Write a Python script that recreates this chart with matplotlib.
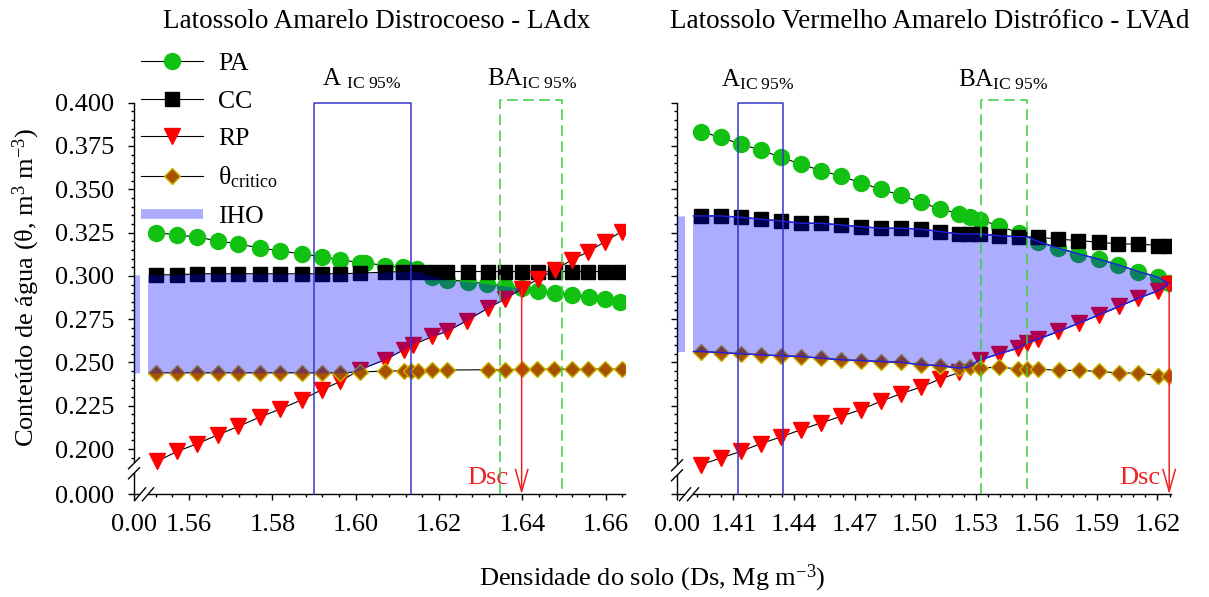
import numpy as np
import matplotlib
matplotlib.use("Agg")
import matplotlib.pyplot as plt
from matplotlib.lines import Line2D

plt.rcParams['font.family'] = ['Liberation Serif', 'DejaVu Serif']
plt.rcParams['mathtext.fontset'] = 'custom'
plt.rcParams['mathtext.rm'] = 'Liberation Serif'
plt.rcParams['mathtext.it'] = 'Liberation Serif:italic'
plt.rcParams['mathtext.bf'] = 'Liberation Serif:bold'

# ---------------- data: LAdx (left) ----------------
lad_pa_x = [1.5520, 1.5571, 1.5620, 1.5670, 1.5718, 1.5770, 1.5819, 1.5870, 1.5918, 1.5963, 1.6011, 1.6022,
            1.6070, 1.6114, 1.6146, 1.6182, 1.6219, 1.6270, 1.6314, 1.6358, 1.6398, 1.6438, 1.6478, 1.6518,
            1.6560, 1.6598, 1.6635]
lad_pa = [0.3250, 0.3237, 0.3223, 0.3202, 0.3184, 0.3161, 0.3144, 0.3126, 0.3111, 0.3092, 0.3077, 0.3077,
          0.3058, 0.3050, 0.3039, 0.2996, 0.2977, 0.2967, 0.2954, 0.2942, 0.2929, 0.2915, 0.2900, 0.2890,
          0.2877, 0.2866, 0.2850]
lad_cc_x = [1.5520, 1.5571, 1.5620, 1.5670, 1.5718, 1.5770, 1.5819, 1.5870, 1.5918, 1.5963, 1.6011, 1.6070,
            1.6114, 1.6146, 1.6182, 1.6218, 1.6270, 1.6318, 1.6358, 1.6398, 1.6438, 1.6478, 1.6518, 1.6558,
            1.6598, 1.6635]
lad_cc = [0.3006, 0.3006, 0.3012, 0.3012, 0.3012, 0.3012, 0.3012, 0.3012, 0.3012, 0.3012, 0.3016, 0.3021,
          0.3025, 0.3025, 0.3025, 0.3025, 0.3025, 0.3025, 0.3025, 0.3025, 0.3025, 0.3025, 0.3025, 0.3025,
          0.3025, 0.3025]
lad_rp_x = [1.5522, 1.5571, 1.5620, 1.5670, 1.5718, 1.5770, 1.5819, 1.5870, 1.5918, 1.5963, 1.6009, 1.6070,
            1.6115, 1.6138, 1.6184, 1.6219, 1.6267, 1.6318, 1.6358, 1.6398, 1.6438, 1.6478, 1.6518, 1.6558,
            1.6598, 1.6638]
lad_rp = [0.1928, 0.1986, 0.2031, 0.2083, 0.2130, 0.2185, 0.2231, 0.2284, 0.2342, 0.2390, 0.2458, 0.2515,
          0.2573, 0.2602, 0.2650, 0.2679, 0.2742, 0.2815, 0.2866, 0.2925, 0.2983, 0.3035, 0.3092, 0.3140,
          0.3198, 0.3256]
lad_th_x = [1.5520, 1.5571, 1.5620, 1.5670, 1.5718, 1.5770, 1.5819, 1.5870, 1.5918, 1.5963, 1.6011, 1.6070,
            1.6115, 1.6133, 1.6149, 1.6184, 1.6219, 1.6318, 1.6358, 1.6398, 1.6434, 1.6476, 1.6518, 1.6558,
            1.6598, 1.6638]
lad_th = [0.2440, 0.2440, 0.2440, 0.2440, 0.2440, 0.2440, 0.2440, 0.2440, 0.2440, 0.2440, 0.2445, 0.2450,
          0.2452, 0.2452, 0.2453, 0.2455, 0.2456, 0.2458, 0.2459, 0.2460, 0.2460, 0.2461, 0.2461, 0.2462,
          0.2462, 0.2462]
lad_iho_x = [1.5520, 1.5571, 1.5620, 1.5670, 1.5718, 1.5770, 1.5819, 1.5870, 1.5918, 1.5963, 1.5995, 1.6011,
             1.6070, 1.6115, 1.6150, 1.6184, 1.6219, 1.6267, 1.6317, 1.6358, 1.6398]
lad_iho_top = [0.3006, 0.3006, 0.3012, 0.3012, 0.3012, 0.3012, 0.3012, 0.3012, 0.3012, 0.3012, 0.3014, 0.3016,
               0.3021, 0.3025, 0.3025, 0.2998, 0.2977, 0.2967, 0.2954, 0.2942, 0.2927]
lad_iho_bot = [0.2440, 0.2440, 0.2440, 0.2440, 0.2440, 0.2440, 0.2440, 0.2440, 0.2440, 0.2440, 0.2443, 0.2458,
               0.2515, 0.2573, 0.2625, 0.2650, 0.2679, 0.2742, 0.2815, 0.2866, 0.2927]
lad_a_ci = [1.5900, 1.6132]
lad_ba_ci = [1.6346, 1.6496]
lad_dsc = 1.6398

# ---------------- data: LVAd (right) ----------------
lva_x = [1.3938, 1.4037, 1.4136, 1.4235, 1.4334, 1.4433, 1.4532, 1.4631, 1.4730, 1.4829, 1.4928, 1.5027]
lva_pa_x = lva_x + [1.5123, 1.5218, 1.5271, 1.5321, 1.5417, 1.5516, 1.5610, 1.5709, 1.5808, 1.5912, 1.6006,
                    1.6105, 1.6204, 1.6258]
lva_pa = [0.3833, 0.3800, 0.3760, 0.3727, 0.3685, 0.3646, 0.3608, 0.3577, 0.3538, 0.3500, 0.3466, 0.3424,
          0.3387, 0.3358, 0.3339, 0.3323, 0.3289, 0.3246, 0.3198, 0.3160, 0.3127, 0.3096, 0.3063, 0.3025,
          0.2992, 0.2958]
lva_cc_x = lva_pa_x
lva_cc = [0.3346, 0.3346, 0.3339, 0.3327, 0.3317, 0.3304, 0.3304, 0.3294, 0.3284, 0.3275, 0.3275, 0.3270,
          0.3256, 0.3242, 0.3242, 0.3242, 0.3231, 0.3227, 0.3223, 0.3212, 0.3204, 0.3194, 0.3184, 0.3184,
          0.3175, 0.3175]
lva_rp_x = lva_x + [1.5123, 1.5218, 1.5321, 1.5417, 1.5511, 1.5553, 1.5610, 1.5709, 1.5813, 1.5912, 1.6011,
                    1.6105, 1.6204, 1.6258]
lva_rp = [0.1909, 0.1948, 0.1986, 0.2031, 0.2069, 0.2111, 0.2150, 0.2188, 0.2227, 0.2275, 0.2319, 0.2357,
          0.2404, 0.2442, 0.2515, 0.2550, 0.2583, 0.2612, 0.2635, 0.2679, 0.2727, 0.2775, 0.2823, 0.2871,
          0.2915, 0.2952]
lva_th_x = lva_x + [1.5123, 1.5218, 1.5271, 1.5321, 1.5417, 1.5511, 1.5553, 1.5610, 1.5714, 1.5813, 1.5912,
                    1.6011, 1.6105, 1.6204, 1.6258]
lva_th = [0.2563, 0.2557, 0.2550, 0.2544, 0.2538, 0.2534, 0.2525, 0.2515, 0.2511, 0.2505, 0.2500, 0.2487,
          0.2481, 0.2467, 0.2473, 0.2467, 0.2473, 0.2462, 0.2462, 0.2462, 0.2454, 0.2454, 0.2448, 0.2439,
          0.2439, 0.2423, 0.2423]
lva_iho_x = lva_x + [1.5123, 1.5218, 1.5263, 1.5321, 1.5417, 1.5511, 1.5555, 1.5610, 1.5709, 1.5810, 1.5912,
                     1.6008, 1.6105, 1.6204, 1.6258]
lva_iho_top = [0.3346, 0.3346, 0.3339, 0.3327, 0.3317, 0.3304, 0.3304, 0.3294, 0.3284, 0.3275, 0.3275, 0.3270,
               0.3256, 0.3242, 0.3242, 0.3242, 0.3231, 0.3227, 0.3225, 0.3198, 0.3160, 0.3127, 0.3096, 0.3063,
               0.3025, 0.2992, 0.2955]
lva_iho_bot = [0.2563, 0.2557, 0.2550, 0.2544, 0.2538, 0.2534, 0.2525, 0.2515, 0.2511, 0.2505, 0.2500, 0.2487,
               0.2481, 0.2467, 0.2472, 0.2515, 0.2550, 0.2583, 0.2612, 0.2635, 0.2679, 0.2727, 0.2775, 0.2823,
               0.2871, 0.2913, 0.2955]
lva_a_ci = [1.4124, 1.4347]
lva_ba_ci = [1.5324, 1.5555]
lva_dsc = 1.6258

# ---------------- style ----------------
FIG_W, FIG_H = 1209, 597
PA_C = '#12c212'
RP_C = '#ff0000'
TH_FACE = '#a85200'
TH_EDGE = '#c8b400'
IHO_C = '#0000ff'
IHO_A = 0.32
A_C = '#3636c8'
BA_C = '#3ccc3c'
FS = 19

Y_B, Y_G = 0.190, 0.01616


def broken_scale(b, g):
	"""piecewise linear scale: [0, b] squeezed into [0, g], linear above b"""
	def fwd(v):
		v = np.asarray(v, dtype=float)
		return np.where(v <= b, v * g / b, g + (v - b))

	def inv(u):
		u = np.asarray(u, dtype=float)
		return np.where(u <= g, u * b / g, b + (u - g))
	return fwd, inv


def draw_breaks(ax, yc, xc):
	"""axis break marks, yc / xc in pixels from the bottom-left corner"""
	pos = ax.get_position()
	W, H = pos.width * FIG_W, pos.height * FIG_H
	kw = dict(transform=ax.transAxes, clip_on=False, zorder=10, solid_capstyle='butt')
	ax.plot([0, 0], [(yc - 5) / H, (yc + 5) / H], color='white', lw=3, **kw)
	for off in (-5, 5):
		ax.plot([-6 / W, 6 / W], [(yc + off - 6) / H, (yc + off + 6) / H], color='black', lw=1, **kw)
	ax.plot([(xc - 4) / W, (xc + 4) / W], [0, 0], color='white', lw=3, **kw)
	for off in (-4, 4):
		ax.plot([(xc + off - 6) / W, (xc + off + 6) / W], [-7 / H, 7 / H], color='black', lw=1, **kw)


def draw_panel(ax, xb, xg, gap_frac, pa_x, pa, cc_x, cc, rp_x, rp, th_x, th,
               iho_x, iho_top, iho_bot, a_ci, ba_ci, dsc, xlim_hi, xmaj, xmin_ticks,
               iho_edge=False):
	ax.set_xscale('function', functions=broken_scale(xb, xg))
	ax.set_yscale('function', functions=broken_scale(Y_B, Y_G))

	line_kw = dict(color='black', lw=0.8)
	ax.plot(pa_x, pa, marker='o', ms=11.5, mfc=PA_C, mec=PA_C, zorder=2, **line_kw)
	ax.plot(cc_x, cc, marker='s', ms=10, mfc='black', mec='black', zorder=2.1, **line_kw)
	ax.plot(rp_x, rp, marker='v', ms=11, mfc=RP_C, mec=RP_C, zorder=2.2, **line_kw)
	ax.plot(th_x, th, marker='D', ms=8.5, mfc=TH_FACE, mec=TH_EDGE, mew=1.0, zorder=2.3, **line_kw)

	# IHO area, extended to the origin of the broken axis
	fx = np.concatenate([[0, xb], iho_x])
	ft = np.concatenate([[iho_top[0]] * 2, iho_top])
	fb = np.concatenate([[iho_bot[0]] * 2, iho_bot])
	ax.fill_between(fx, fb, ft, color=IHO_C, alpha=IHO_A, lw=0, zorder=3)
	ax.axvspan(gap_frac * xb, xb, color='white', lw=0, zorder=3.5)
	if iho_edge:
		ax.plot(fx[1:], ft[1:], color='#1f1fe6', lw=1, zorder=3.6)
		ax.plot(fx[1:], fb[1:], color='#1f1fe6', lw=1, zorder=3.6)

	# confidence interval boxes
	ax.plot([a_ci[0], a_ci[0], a_ci[1], a_ci[1]], [0, 0.400, 0.400, 0], color=A_C, lw=1.1, zorder=4,
	        clip_on=False)
	ax.plot([ba_ci[0], ba_ci[0], ba_ci[1], ba_ci[1]], [0, 0.4015, 0.4015, 0], color=BA_C, lw=1.1,
	        ls=(0, (7, 3.5)), zorder=4, clip_on=False)

	# critical density arrow
	top = float(np.interp(dsc, rp_x, rp))
	ax.annotate('', xy=(dsc, 0), xytext=(dsc, top),
	            arrowprops=dict(arrowstyle='->,head_length=1.6,head_width=0.45', color='#ee2222',
	                            lw=1.1, shrinkA=0, shrinkB=0, mutation_scale=10), zorder=5)

	ax.set_xlim(0, xlim_hi)
	ax.set_ylim(0, 0.400)

	ax.set_xticks([0] + xmaj)
	ax.set_xticklabels(['0.00'] + ['%.2f' % v for v in xmaj])
	ax.set_xticks(xmin_ticks, minor=True)
	ax.set_yticks([0.0, 0.200, 0.225, 0.250, 0.275, 0.300, 0.325, 0.350, 0.375, 0.400])
	ax.set_yticks(np.round(np.arange(0.195, 0.4001, 0.005), 3), minor=True)

	for s in ('top', 'right'):
		ax.spines[s].set_visible(False)
	for s in ('left', 'bottom'):
		ax.spines[s].set_linewidth(1.0)
	ax.tick_params(which='major', direction='out', length=4.3, width=1, labelsize=FS, pad=10)
	ax.tick_params(which='minor', direction='out', length=2.4, width=1)


fig = plt.figure(figsize=(FIG_W / 100, FIG_H / 100), dpi=100)
axL = fig.add_axes([134 / FIG_W, 1 - 494.3 / FIG_H, 491 / FIG_W, 391.6 / FIG_H])
axR = fig.add_axes([677 / FIG_W, 1 - 494.3 / FIG_H, 494 / FIG_W, 391.6 / FIG_H])

draw_panel(axL, 1.5502, 0.00343, 0.42, lad_pa_x, lad_pa, lad_cc_x, lad_cc, lad_rp_x, lad_rp, lad_th_x, lad_th,
           lad_iho_x, lad_iho_top, lad_iho_bot, lad_a_ci, lad_ba_ci, lad_dsc, 1.6646,
           [1.56, 1.58, 1.60, 1.62, 1.64, 1.66], np.round(np.arange(1.552, 1.6645, 0.004), 3))
draw_panel(axR, 1.3901, 0.00807, 0.49, lva_pa_x, lva_pa, lva_cc_x, lva_cc, lva_rp_x, lva_rp, lva_th_x, lva_th,
           lva_iho_x, lva_iho_top, lva_iho_bot, lva_a_ci, lva_ba_ci, lva_dsc, 1.6267,
           [1.41, 1.44, 1.47, 1.50, 1.53, 1.56, 1.59, 1.62], np.round(np.arange(1.392, 1.6265, 0.006), 3),
           iho_edge=True)

axL.set_yticklabels(['%.3f' % v for v in axL.get_yticks()])
axR.set_yticklabels([])

draw_breaks(axL, 26, 10)
draw_breaks(axR, 24, 12)

# CI labels
axL.text(1.5918, 0.4102, r'A $_{\rm IC\ 95\%}$', fontsize=18, ha='left', va='baseline')
axL.text(1.6316, 0.4102, r'BA$_{\rm IC\ 95\%}$', fontsize=18, ha='left', va='baseline')
axR.text(1.4038, 0.4092, r'A$_{\rm IC\ 95\%}$', fontsize=18, ha='left', va='baseline')
axR.text(1.5213, 0.4092, r'BA$_{\rm IC\ 95\%}$', fontsize=18, ha='left', va='baseline')

# Dsc labels
axL.text(1.6365, 0.042, 'Dsc', color='#ee2222', fontsize=FS, ha='right', va='center',
         transform=axL.get_xaxis_transform())
axR.text(1.6212, 0.042, 'Dsc', color='#ee2222', fontsize=FS, ha='right', va='center',
         transform=axR.get_xaxis_transform())

# titles and axis labels
fig.text(376.5 / FIG_W, 1 - 22 / FIG_H, 'Latossolo Amarelo Distrocoeso - LAdx', fontsize=19.5,
         ha='center', va='center')
fig.text(929.5 / FIG_W, 1 - 22 / FIG_H, 'Latossolo Vermelho Amarelo Distrófico - LVAd', fontsize=19.5,
         ha='center', va='center')
fig.text(26 / FIG_W, 1 - 287 / FIG_H, 'Conteúdo de água (θ, m$^{3}$ m$^{-3}$)', fontsize=FS,
         rotation=90, ha='center', va='center')
fig.text(652 / FIG_W, 1 - 578 / FIG_H, 'Densidade do solo (Ds, Mg m$^{-3}$)', fontsize=FS,
         ha='center', va='center')

# legend
handles = [
	Line2D([], [], color='black', lw=0.8, marker='o', ms=11.5, mfc=PA_C, mec=PA_C),
	Line2D([], [], color='black', lw=0.8, marker='s', ms=10, mfc='black', mec='black'),
	Line2D([], [], color='black', lw=0.8, marker='v', ms=11, mfc=RP_C, mec=RP_C),
	Line2D([], [], color='black', lw=0.8, marker='D', ms=8.5, mfc=TH_FACE, mec=TH_EDGE, mew=1.0),
	Line2D([], [], color=IHO_C, alpha=IHO_A, lw=7, solid_capstyle='butt'),
]
labels = ['PA', 'CC', 'RP', r'θ$_{\rm critico}$', 'IHO']
fig.legend(handles, labels, loc='upper left', bbox_to_anchor=(141 / FIG_W, 1 - 52 / FIG_H),
           frameon=False, fontsize=18.5, handlelength=2.4, handletextpad=0.6, labelspacing=0.57,
           borderpad=0, borderaxespad=0)

fig.savefig('out.png', dpi=100)
